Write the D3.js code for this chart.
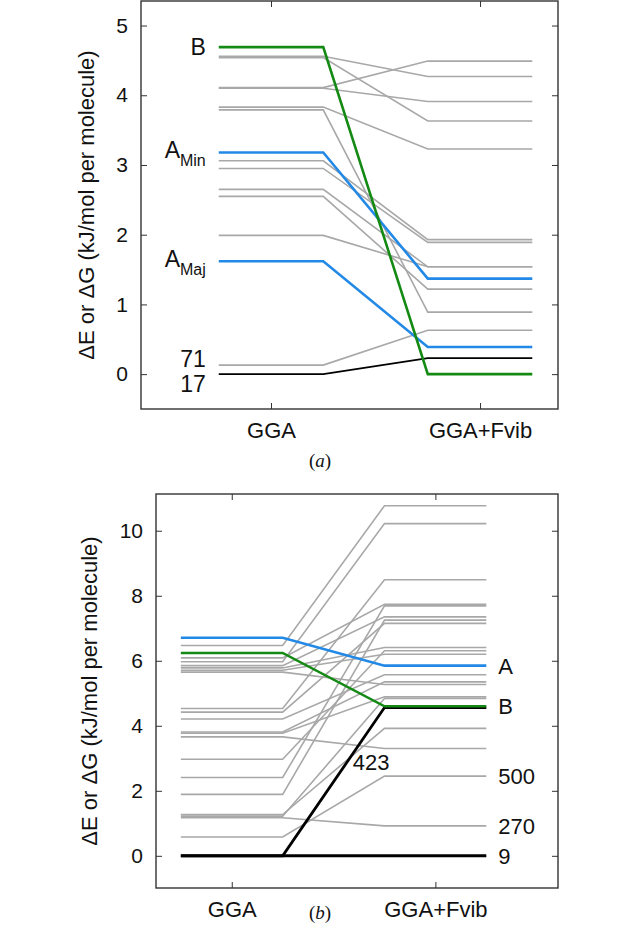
<!DOCTYPE html>
<html><head><meta charset="utf-8">
<script src="https://cdn.jsdelivr.net/npm/d3@7"></script>
<style>body{margin:0;background:#fff} svg{display:block}</style>
</head><body>
<svg id="c" width="640" height="940"></svg>
<script>
// ---------- data ----------
const categories = ["GGA", "GGA+Fvib"];
const yTicksA = [0, 1, 2, 3, 4, 5];
const yTicksB = [0, 2, 4, 6, 8, 10];

// panel (a): grey structures, energy at GGA and GGA+Fvib
const grayLeftA  = [4.56, 4.54, 4.11, 4.10, 3.83, 3.79, 3.06, 2.95, 2.65, 2.55, 1.99, 0.13];
const grayRightA = [4.27, 3.63, 4.49, 3.91, 3.23, 0.89, 1.93, 1.89, 1.54, 1.22, 1.54, 0.63];
// panel (a): highlighted structures
const keyNamesA = ["17", "AMaj", "AMin", "B"];
const keyLeftA  = [0.00, 1.62, 3.18, 4.69];
const keyRightA = [0.23, 0.39, 1.37, 0.00];

// panel (b)
const grayLeftB  = [6.47, 5.97, 4.53, 6.09, 2.41, 5.85, 1.89, 4.42, 5.78, 2.97, 5.71, 4.21, 3.81, 5.65, 3.77, 1.22, 1.27, 3.66, 0.58, 1.17];
const grayRightB = [10.77, 10.22, 8.49, 7.74, 7.69, 7.35, 7.25, 7.15, 6.41, 6.31, 6.20, 5.57, 5.35, 5.27, 4.89, 4.84, 3.92, 3.30, 2.45, 0.92];
const keyNamesB = ["A", "423", "B", "9"];
const keyLeftB  = [6.71, 0.00, 6.24, 0.00];
const keyRightB = [5.85, 4.56, 4.60, 0.00];

// ---------- styles ----------
const GRAY = "#a8a8a8", BLUE = "#2389e6", GREEN = "#148a14", BLACK = "#000";
const colorOf = {B: GREEN, AMin: BLUE, AMaj: BLUE, "17": BLACK, A: BLUE, "423": BLACK, "9": BLACK};
const FONT = "'Liberation Sans', Arial, Helvetica, sans-serif";
const svg = d3.select("#c");
const HW = 0.25; // half width of level segments in category units

function panel(cfg) {
  const g = svg.append("g");
  const x = d3.scaleLinear().domain(cfg.xDom).range([cfg.left, cfg.right]);
  const y = d3.scaleLinear().domain(cfg.yDom).range([cfg.bottom, cfg.top]);
  const line = d3.line().x(d => x(d[0])).y(d => y(d[1]));
  const pts = (a, b) => [[1 - HW, a], [1 + HW, a], [2 - HW, b], [2 + HW, b]];

  // grey lines
  g.append("g").selectAll("path").data(cfg.grayL.map((v, i) => [v, cfg.grayR[i]]))
    .join("path").attr("d", d => line(pts(d[0], d[1])))
    .attr("fill", "none").attr("stroke", GRAY).attr("stroke-width", 1.6);
  // key lines
  g.append("g").selectAll("path").data(cfg.keyNames.map((n, i) => ({n, a: cfg.keyL[i], b: cfg.keyR[i]})))
    .join("path").attr("d", d => line(pts(d.a, d.b)))
    .attr("fill", "none").attr("stroke", d => colorOf[d.n])
    .attr("stroke-width", d => cfg.keyWidth[d.n] || 2.6);

  // axes (frame with mirrored inward ticks)
  const axL = d3.axisLeft(y).tickValues(cfg.yTicks).tickFormat(d3.format("d"))
    .tickSizeInner(-6).tickSizeOuter(0).tickPadding(13);
  const axR = d3.axisRight(y).tickValues(cfg.yTicks).tickSizeInner(-6).tickSizeOuter(0).tickFormat("");
  const axB = d3.axisBottom(x).tickValues([1, 2]).tickSizeInner(-6).tickSizeOuter(0).tickPadding(13)
    .tickFormat(d => categories[d - 1]);
  const axT = d3.axisTop(x).tickValues([1, 2]).tickSizeInner(-6).tickSizeOuter(0).tickFormat("");
  const style = (s, fs) => {
    s.select(".domain").remove();
    s.selectAll("line").attr("stroke", "#333").attr("stroke-width", 1);
    s.selectAll("text").attr("font-family", FONT).attr("font-size", fs).attr("fill", "#111");
  };
  g.append("g").attr("transform", `translate(${cfg.left},0)`).call(axL).call(style, 21);
  g.append("g").attr("transform", `translate(${cfg.right},0)`).call(axR).call(style, 21);
  g.append("g").attr("transform", `translate(0,${cfg.bottom})`).call(axB).call(style, 22);
  g.append("g").attr("transform", `translate(0,${cfg.top})`).call(axT).call(style, 21);
  g.append("rect").attr("x", cfg.left).attr("y", cfg.top)
    .attr("width", cfg.right - cfg.left).attr("height", cfg.bottom - cfg.top)
    .attr("fill", "none").attr("stroke", "#333").attr("stroke-width", 1.4);

  // y title
  g.append("text").attr("transform", `translate(${cfg.titleX},${(cfg.top + cfg.bottom) / 2}) rotate(-90)`)
    .attr("text-anchor", "middle").attr("font-family", FONT).attr("font-size", 22).attr("fill", "#111")
    .text("\u0394E or \u0394G (kJ/mol per molecule)");
  // caption
  const cap = g.append("text").attr("x", 320).attr("y", cfg.capY).attr("text-anchor", "middle")
    .attr("font-family", "'Liberation Serif', 'Times New Roman', serif").attr("font-size", 19).attr("fill", "#111");
  cap.append("tspan").text("(");
  cap.append("tspan").attr("font-style", "italic").text(cfg.cap);
  cap.append("tspan").text(")");
  return {g, x, y};
}

// ---------- panel (a) ----------
const A = panel({
  left: 141, right: 558, top: 1, bottom: 409,
  xDom: [0.378, 2.373], yDom: [-0.5, 5.352],
  yTicks: yTicksA, grayL: grayLeftA, grayR: grayRightA,
  keyNames: keyNamesA, keyL: keyLeftA, keyR: keyRightA,
  keyWidth: {"17": 1.8},
  titleX: 94, cap: "a", capY: 467
});
{
  const lx = A.x(1 - HW) - 13;
  const lab = (txt, sub, v, dy) => {
    const t = A.g.append("text").attr("x", lx).attr("y", A.y(v) + dy).attr("text-anchor", "end")
      .attr("font-family", FONT).attr("font-size", 23).attr("fill", "#111");
    t.append("tspan").text(txt);
    if (sub) t.append("tspan").attr("font-size", 16).attr("dy", 8).text(sub);
  };
  lab("B", null, keyLeftA[3], 8);
  lab("A", "Min", keyLeftA[2], 6);
  lab("A", "Maj", keyLeftA[1], 6);
  lab("71", null, grayLeftA[11], 2);
  lab("17", null, keyLeftA[0], 18);
}

// ---------- panel (b) ----------
const B = panel({
  left: 156, right: 558, top: 494, bottom: 888,
  xDom: [0.628, 2.602], yDom: [-0.99, 11.13],
  yTicks: yTicksB, grayL: grayLeftB, grayR: grayRightB,
  keyNames: keyNamesB, keyL: keyLeftB, keyR: keyRightB,
  keyWidth: {"423": 2.8, "9": 3},
  titleX: 97, cap: "b", capY: 919
});
{
  const rx = B.x(2 + HW) + 12;
  const lab = (txt, v, dy, x0) => B.g.append("text").attr("x", x0 ?? rx).attr("y", B.y(v) + dy)
    .attr("font-family", FONT).attr("font-size", 22).attr("fill", "#111").text(txt);
  lab("A", keyRightB[0], 8);
  lab("B", keyRightB[2], 8);
  lab("500", grayRightB[18], 8);
  lab("270", grayRightB[19], 8);
  lab("9", keyRightB[3], 8);
  // label along the 423 line
  const t = 0.63;
  const lx = B.x(1 + HW) + t * (B.x(2 - HW) - B.x(1 + HW));
  const ly = keyLeftB[1] + t * (keyRightB[1] - keyLeftB[1]);
  lab("423", ly, 8, lx + 6);
}
</script>
</body></html>
